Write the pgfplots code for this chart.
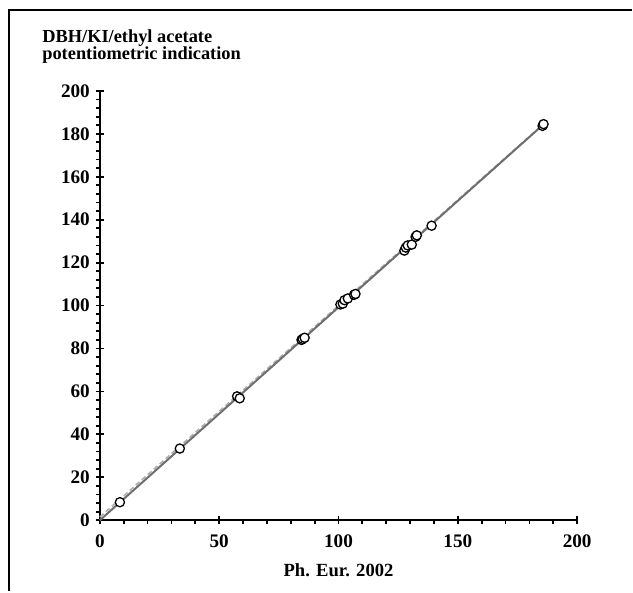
\documentclass[border=0pt]{standalone}
\usepackage{fontspec}
\setmainfont{Liberation Serif}
\usepackage{pgfplots}
\pgfplotsset{compat=1.18}
\definecolor{fitgray}{RGB}{110,110,110}
\definecolor{dashgray}{RGB}{175,175,175}

\begin{document}
\begin{tikzpicture}
\begin{axis}[
    at={(0,0)}, anchor=south west,
    scale only axis, width=239pt, height=215pt,
    xmin=0, xmax=200, ymin=0, ymax=200,
    axis x line=bottom, axis y line=left,
    axis line style={-, line width=1pt, black},
    xtick={0,50,...,200}, ytick={0,20,...,200},
    minor x tick num=4, minor y tick num=4,
    tick align=outside,
    major tick length=4pt, minor tick length=1.8pt,
    every tick/.style={black, line width=0.9pt},
    major x tick style={yshift=2pt},
    major y tick style={xshift=2pt},
    /pgf/number format/assume math mode=true,
    tick label style={font=\fontsize{9.6}{10}\selectfont\bfseries},
    xticklabel style={yshift=0.5pt},
    yticklabel style={xshift=2.5pt},
    xlabel={Ph. Eur. 2002},
    xlabel style={font=\fontsize{9.3}{10}\selectfont\bfseries,
        at={(axis description cs:0.5,0)}, anchor=base, yshift=-28pt},
    clip=false,
]
\addplot[dashgray, line width=0.8pt, dash pattern=on 2.5pt off 1.5pt] coordinates {(0,1.5) (185.5,184.2)};
\addplot[fitgray, line width=1pt] coordinates {(0,0) (185.5,184)};
\addplot[only marks, mark=*, mark size=2.3pt,
    mark options={fill=white, draw=black, line width=0.65pt}] coordinates {
    (8.4,8.4) (33.5,33.4) (57.5,57.7) (58.6,56.8)
    (84.5,84.0) (85.0,84.5) (85.8,85.0)
    (100.8,100.5) (101.8,100.9) (102.5,102.5) (103.9,103.3)
    (106.5,105.0) (107.1,105.4)
    (127.6,125.6) (128.2,127.0) (129.0,128.0) (130.7,128.4)
    (132.3,132.0) (132.8,132.7) (139.0,137.2)
    (185.5,183.7) (185.9,184.5)
};
\end{axis}
\draw[line width=0.9pt] (-45.5pt,-35.5pt) -- (-45.5pt,255.5pt) -- (266.5pt,255.5pt);
\node[anchor=base west, inner sep=0pt, font=\fontsize{9.2}{10}\selectfont\bfseries] at (-29pt,239pt) {DBH/KI/ethyl acetate};
\node[anchor=base west, inner sep=0pt, font=\fontsize{9.2}{10}\selectfont\bfseries] at (-29pt,230.5pt) {potentiometric indication};
\path[use as bounding box] (-50pt,-35.5pt) rectangle (266.5pt,260.5pt);
\end{tikzpicture}
\end{document}
